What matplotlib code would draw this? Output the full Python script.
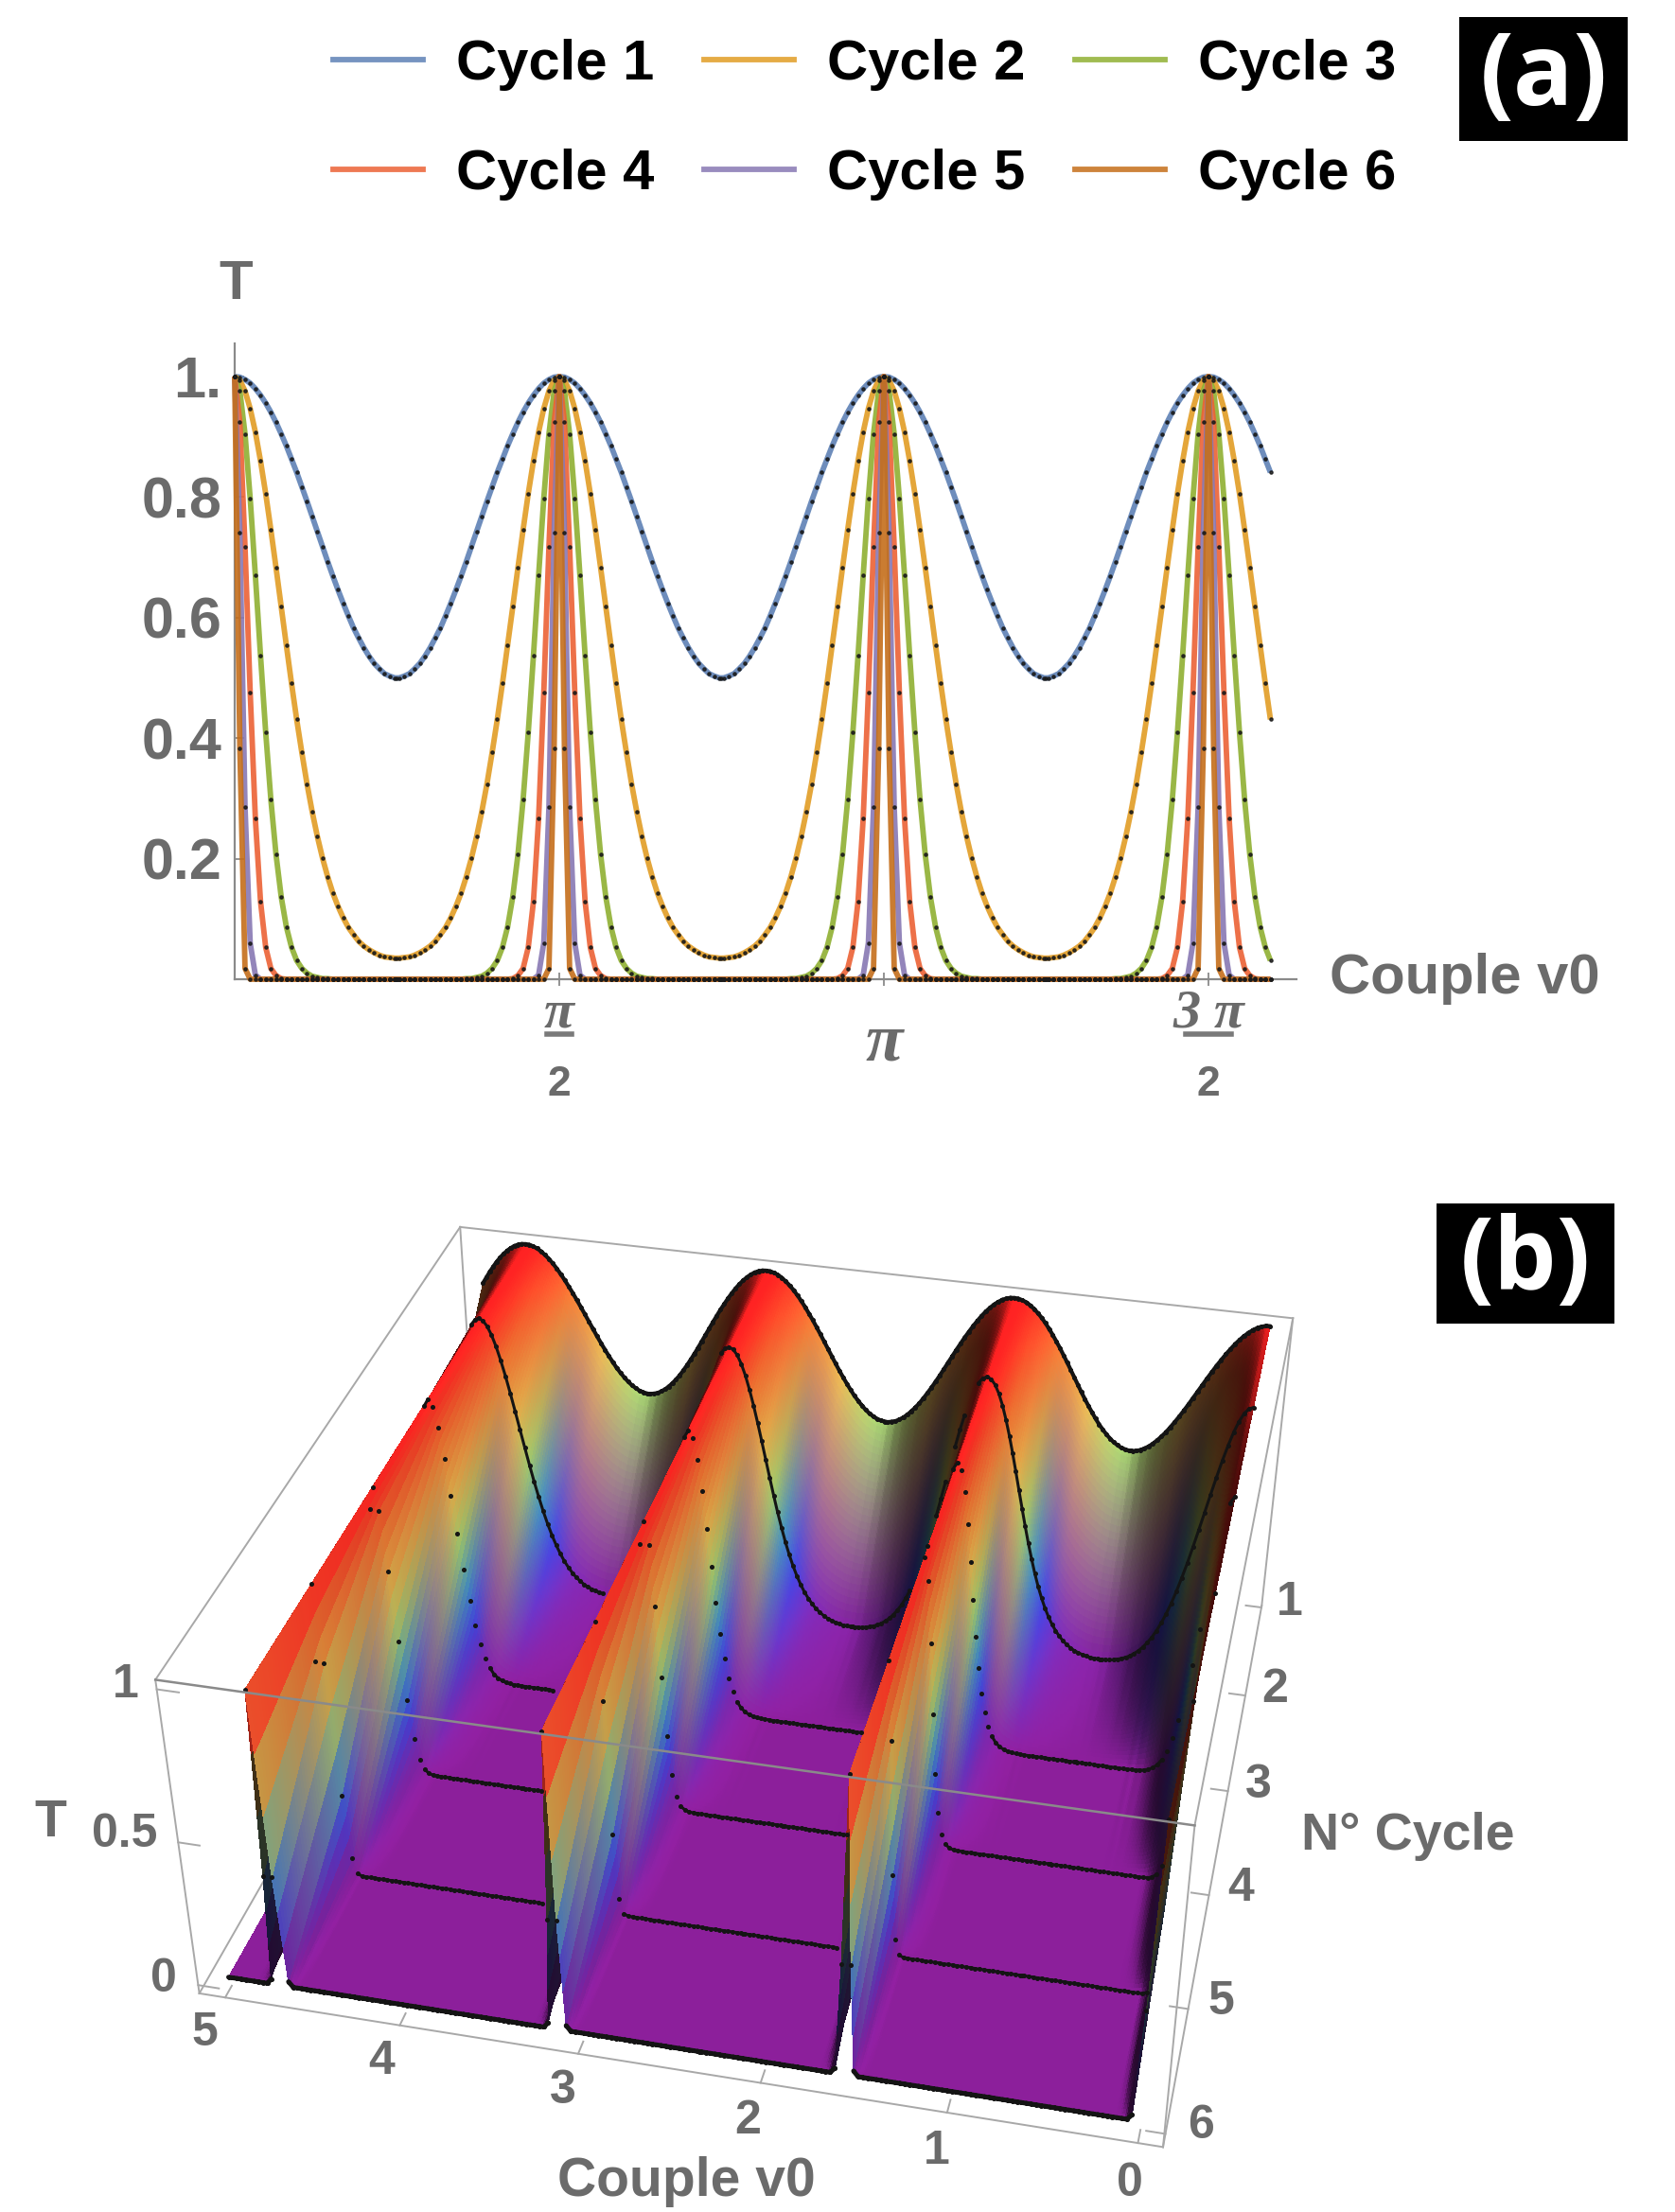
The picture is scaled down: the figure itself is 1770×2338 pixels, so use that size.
import numpy as np
import matplotlib
matplotlib.use("Agg")
import matplotlib.pyplot as plt
from matplotlib.lines import Line2D
from matplotlib.colors import LinearSegmentedColormap
from mpl_toolkits.mplot3d import proj3d

# ---------- data (one half period, distance from a peak, radians) ----------
offsets = [0, .025, .05, .075, .1, .125, .15, .175, .2, .225, .25, .275, .3, .325, .35, .375,
           .4, .425, .45, .475, .5, .525, .55, .575, .6, .625, .65, .675, .7, .725, .75, .775, .785]
cycle1 = [1, .999, .995, .989, .980, .969, .956, .941, .924, .905, .885, .863, .841, .817, .793, .768,
          .743, .718, .693, .669, .646, .624, .603, .583, .566, .550, .536, .524, .515, .507, .503, .500, .500]
cycle2 = [1, .994, .976, .947, .908, .860, .806, .746, .683, .618, .554, .491, .431, .376, .324, .278,
          .237, .201, .170, .143, .121, .102, .086, .074, .063, .055, .049, .044, .040, .037, .036, .035, .035]
cycle3 = [1, .976, .905, .798, .670, .537, .410, .298, .207, .137, .087, .053, .031, .018, .010, .005,
          .003, .001, .001, 0, 0, 0, 0, 0, 0, 0, 0, 0, 0, 0, 0, 0, 0]
cycle4 = [1, .924, .718, .476, .267, .129, .053, .018, .006, .001, 0, 0, 0, 0, 0, 0,
          0, 0, 0, 0, 0, 0, 0, 0, 0, 0, 0, 0, 0, 0, 0, 0, 0]
cycle5 = [1, .741, .286, .060, .007, 0, 0, 0, 0, 0, 0, 0, 0, 0, 0, 0,
          0, 0, 0, 0, 0, 0, 0, 0, 0, 0, 0, 0, 0, 0, 0, 0, 0]
cycle6 = [1, .383, .018, 0, 0, 0, 0, 0, 0, 0, 0, 0, 0, 0, 0, 0,
          0, 0, 0, 0, 0, 0, 0, 0, 0, 0, 0, 0, 0, 0, 0, 0, 0]
cycles = [cycle1, cycle2, cycle3, cycle4, cycle5, cycle6]
cycle_labels = ["Cycle 1", "Cycle 2", "Cycle 3", "Cycle 4", "Cycle 5", "Cycle 6"]
cycle_numbers = [1, 2, 3, 4, 5, 6]
v0_end = 5.03
y_ticks = [0.2, 0.4, 0.6, 0.8, 1.0]
y_ticklabels = ["0.2", "0.4", "0.6", "0.8", "1."]
colors = [(0.368, 0.507, 0.710), (0.881, 0.611, 0.142), (0.560, 0.692, 0.195),
          (0.923, 0.386, 0.209), (0.528, 0.471, 0.701), (0.772, 0.432, 0.102)]
GREY = "#6b6b6b"
W, H = 1770, 2338


def expand(profile):
    """Lay the half-period profile along v0: the picture repeats with period pi/2."""
    off = np.array(offsets)
    p = np.array(profile, float)
    xs, ys = [off], [p]
    for k in (1, 2, 3):
        c = k * np.pi / 2
        xs += [c - off[::-1][1:], c + off[1:]]
        ys += [p[::-1][1:], p[1:]]
    x, y = np.concatenate(xs), np.concatenate(ys)
    keep = x <= v0_end
    return x[keep], y[keep]


plt.rcParams["font.family"] = ["Liberation Sans", "DejaVu Sans"]
plt.rcParams["font.weight"] = "bold"
fig = plt.figure(figsize=(W / 100, H / 100), dpi=100, facecolor="white")

# ---------- panel (a) ----------
x0, x1, ytop, ybot = 248, 1370, 363, 1035
ax = fig.add_axes([x0 / W, 1 - ybot / H, (x1 - x0) / W, (ybot - ytop) / H], facecolor="none")
ax.set_xlim(0, (x1 - x0) / 343 * np.pi / 2)
ax.set_ylim(0, (ybot - ytop) / 637)
for s in ("top", "right"):
    ax.spines[s].set_visible(False)
for s in ("left", "bottom"):
    ax.spines[s].set_color("#8a8a8a")
    ax.spines[s].set_linewidth(1.6)
handles = []
for vals, col, lab in zip(cycles, colors, cycle_labels):
    xv, yv = expand(vals)
    h, = ax.plot(xv, yv, color=col, lw=4.2, alpha=0.9, label=lab, clip_on=False, solid_capstyle="butt", zorder=3)
    ax.plot(xv, yv, ls="", marker="o", ms=2.3, color="#1a1a1a", clip_on=False, zorder=4, alpha=0.85)
    handles.append(h)
ax.set_yticks(y_ticks)
ax.set_yticklabels(y_ticklabels, fontsize=44, color=GREY, fontweight="bold")
ax.tick_params(axis="y", direction="in", length=7, width=1.3, color="#8a8a8a", pad=10)
ax.set_xticks([np.pi / 2, np.pi, 3 * np.pi / 2])
ax.set_xticklabels([])
ax.tick_params(axis="x", direction="inout", length=10, width=1.3, color="#8a8a8a")
trans = ax.get_xaxis_transform()
px = lambda y: 1 - (y - ytop) / (ybot - ytop)
serif = dict(family="Liberation Serif", style="italic", fontweight="bold", color=GREY, clip_on=False,
             ha="center", va="center", transform=trans)
ax.text(np.pi / 2, px(1072), "π", fontsize=42, **serif)
ax.text(np.pi, px(1103), "π", fontsize=52, **serif)
ax.text(3 * np.pi / 2, px(1072), "3 π", fontsize=42, **serif)
for tick, half in ((np.pi / 2, 0.060), (3 * np.pi / 2, 0.108)):
    ax.add_line(Line2D([tick - half, tick + half], [px(1093), px(1093)], transform=trans,
                       color="#7a7a7a", lw=4, clip_on=False))
    ax.text(tick, px(1147), "2", fontsize=32, color=GREY, ha="center", va="center", transform=trans, fontweight="bold")
fig.text(249 / W, 1 - 301 / H, "T", fontsize=42, color=GREY, ha="center", va="center", fontweight="bold")
fig.text(1548 / W, 1 - 1035 / H, "Couple v0", fontsize=43, color=GREY, ha="center", va="center", fontweight="bold")

order = [0, 3, 1, 4, 2, 5]
leg = fig.legend(handles=[Line2D([], [], color=colors[i], lw=4.2, alpha=.85) for i in order],
                 labels=[cycle_labels[i] for i in order],
                 ncols=3, loc="upper left", bbox_to_anchor=(352 / W, 1 - 41 / H), frameon=False,
                 borderpad=0, borderaxespad=0, handlelength=1.59, handletextpad=0.59, columnspacing=0.875,
                 labelspacing=1.02, prop=dict(size=43, weight="bold"))
for t in leg.get_texts():
    t.set_color("black")

for label, (lx0, ly0, lx1, ly1) in (("(a)", (1542, 18, 1720, 149)), ("(b)", (1518, 1272, 1706, 1399))):
    fig.patches.append(plt.Rectangle((lx0 / W, 1 - ly1 / H), (lx1 - lx0) / W, (ly1 - ly0) / H,
                                     transform=fig.transFigure, fc="black", ec="none"))
    fig.text((lx0 + lx1) / 2 / W, 1 - (ly0 + ly1) / 2 / H, label, color="white", fontsize=76, ha="center",
             va="center", family="Open Sans", fontweight="bold")

# ---------- panel (b) ----------
xlim3, ylim3, zlim3 = (-0.13, 5.15), (0.98, 6.1), (-0.03, 1.03)
ax3 = fig.add_axes([122 / W, -90 / H, 1356 / W, 1356 / H], projection="3d", proj_type="persp", focal_length=0.45,
                   computed_zorder=False)
ax3.patch.set_alpha(0)
ax3.set_axis_off()
ax3.set_xlim(*xlim3)
ax3.set_ylim(*ylim3)
ax3.set_zlim(*zlim3)
ax3.set_box_aspect((620, 595, 248), zoom=1.0)
ax3.view_init(elev=35, azim=103, roll=0)

xg, _ = expand(cycle1)
rows = np.array([expand(c)[1] for c in cycles])
rainbow = LinearSegmentedColormap.from_list("rb", [
    (0.00, (0.55, 0.12, 0.61)), (0.10, (0.48, 0.17, 0.72)), (0.22, (0.27, 0.28, 0.92)), (0.35, (0.27, 0.60, 0.80)),
    (0.50, (0.66, 0.84, 0.45)), (0.66, (0.93, 0.74, 0.32)), (0.85, (0.97, 0.48, 0.20)), (1.00, (1.00, 0.13, 0.13))])

# render mesh: the read rows, subdivided only so the shading can vary smoothly across each facet
xf = np.unique(np.concatenate([np.linspace(p, q, 3, endpoint=False) for p, q in zip(xg[:-1], xg[1:])] + [[xg[-1]]]))
n_sub = 30
yf = np.concatenate([np.linspace(r, r + 1, n_sub, endpoint=False) for r in cycle_numbers[:-1]] + [[6.0]])
row_f = np.array([np.interp(xf, xg, r) for r in rows])
col_f = rainbow(row_f)[..., :3]
idx = np.minimum(np.floor(yf).astype(int) - 1, 4)
frac = (yf - 1 - idx)[:, None]
Zf = row_f[idx] * (1 - frac) + row_f[idx + 1] * frac
Cf = col_f[idx] * (1 - frac[..., None]) + col_f[idx + 1] * frac[..., None]
# simple lighting from the right and above; slopes facing left fall into shadow
dzdy, dzdx = np.gradient(Zf * 264, yf * 115, xf * 120)
norm = np.sqrt(dzdx**2 + dzdy**2 + 1)
nx, ny, nz = -dzdx / norm, -dzdy / norm, 1 / norm
light = np.array([-.55, .2, .81])
shade = (0.6 + 0.49 * (nx * light[0] + ny * light[1] + nz * light[2])) * (1 - 0.5 * np.clip(nx, 0, 1))
shade = np.clip(shade, 0.28, 1.04)
rgb = np.clip(Cf * shade[..., None], 0, 1)
# each facet takes the mean of its four corners (the library reads the first corner only)
rgb[:-1, :-1] = 0.25 * (rgb[:-1, :-1] + rgb[1:, :-1] + rgb[:-1, 1:] + rgb[1:, 1:])
Xm, Ym = np.meshgrid(xf, yf)
box_col = "#a8a8a8"


def edge(p, q, z=1, col=box_col, lw=1.4):
    ax3.plot([p[0], q[0]], [p[1], q[1]], [p[2], q[2]], color=col, lw=lw, zorder=z)


a, b = xlim3, ylim3
zl, zh = zlim3
# back and side edges behind the surface
edge((a[0], b[0], zh), (a[1], b[0], zh))
edge((a[1], b[0], zh), (a[1], b[1], zh))
edge((a[1], b[0], zh), (a[1], b[0], zl))
edge((a[1], b[0], zl), (a[1], b[1], zl))
edge((a[0], b[0], zh), (a[0], b[0], zl))
edge((a[0], b[0], zl), (a[0], b[1], zl))
edge((a[0], b[0], zh), (a[0], b[1], zh))
edge((a[0], b[1], zl), (a[0], b[1], zh))
edge((a[1], b[1], zl), (a[1], b[1], zh))
edge((a[1], b[1], zl), (a[0], b[1], zl))

ax3.plot_surface(Xm, Ym, Zf, facecolors=rgb, rstride=1, cstride=1, linewidth=0, antialiased=False, shade=False, zorder=2)

# front-top edge runs over the surface
edge((a[1], b[1], zh), (a[0], b[1], zh), z=6, col="#8a8a8a", lw=1.8)

# ---------- row curves with hidden parts removed ----------
M = ax3.get_proj()
xx = np.unique(np.concatenate([np.linspace(p, q, 14, endpoint=False) for p, q in zip(xg[:-1], xg[1:])] + [[xg[-1]]]))
yy = np.linspace(1, 6, 401)
rr = np.array([np.interp(xx, xg, r) for r in rows])
ii = np.minimum(np.floor(yy).astype(int) - 1, 4)
ff = (yy - 1 - ii)[:, None]
ZZ = rr[ii] * (1 - ff) + rr[ii + 1] * ff
XX, YY = np.meshgrid(xx, yy)


def to_px(px_x, px_y, px_z):
    sx, sy, _ = proj3d.proj_transform(np.ravel(px_x), np.ravel(px_y), np.ravel(px_z), M)
    return ax3.transData.transform(np.column_stack([sx, sy]))


P = to_px(XX, YY, ZZ).reshape(XX.shape + (2,))
BIN = 4.0


def code(points):
    cell = np.floor(points / BIN).astype(np.int64)
    return cell[:, 0] * 100000 + cell[:, 1]


for r_i, (num, vals) in enumerate(zip(cycle_numbers, rows)):
    yr = np.full_like(xg, num, dtype=float)
    q = to_px(xg, yr, vals)
    if num < 6:
        occ = np.unique(code(P[yy >= num + 0.15].reshape(-1, 2)))
        vis = ~np.isin(code(q), occ)
    else:
        vis = np.ones_like(xg, dtype=bool)
    ax3.plot(xg[vis], yr[vis], vals[vis], ls="", marker="o", ms=2.6, color="#141414", zorder=4)
    seg_x, seg_y, seg_z = [], [], []
    limit = {1: 60, 2: 60}.get(num, 9)
    for i in range(len(xg) - 1):
        if vis[i] and vis[i + 1] and np.hypot(*(q[i + 1] - q[i])) < limit:
            seg_x += [xg[i], xg[i + 1], np.nan]
            seg_y += [num, num, np.nan]
            seg_z += [vals[i], vals[i + 1], np.nan]
    ax3.plot(seg_x, seg_y, seg_z, color="#141414", lw={1: 3.0, 6: 3.6}.get(num, 2.2), zorder=4,
             solid_capstyle="round")

# ---------- ticks and labels of panel (b) ----------
lab3 = dict(color=GREY, fontsize=36, ha="center", va="center", fontweight="bold", zorder=7)
for v in (0, 1, 2, 3, 4, 5):
    edge((v, b[1], zl), (v, b[1] - 0.1, zl), z=1)
    ax3.text(v, b[1] + 0.30, zl, str(v), **lab3)
for c in cycle_numbers:
    edge((a[0], c, zl), (a[0] + 0.1, c, zl), z=1)
    ax3.text(a[0] - 0.17, c - 0.1, zl, str(c), **lab3)
for z_v, z_s, shift in ((0, "0", 0.2), (0.5, "0.5", 0.3), (1, "1", 0.17)):
    edge((a[1], b[1], z_v), (a[1] - 0.12, b[1], z_v), z=1)
    ax3.text(a[1] + shift, b[1], z_v, z_s, **lab3)
ax3.text(2.2, b[1] + 0.8, zl, "Couple v0", **{**lab3, "fontsize": 41})
ax3.text(a[0] - 1.07, 3.2, zl, "N° Cycle", **{**lab3, "fontsize": 40})
ax3.text(a[1] + 0.72, b[1], 0.5, "T", **{**lab3, "fontsize": 40})

fig.savefig("out.png", dpi=100, facecolor="white")
